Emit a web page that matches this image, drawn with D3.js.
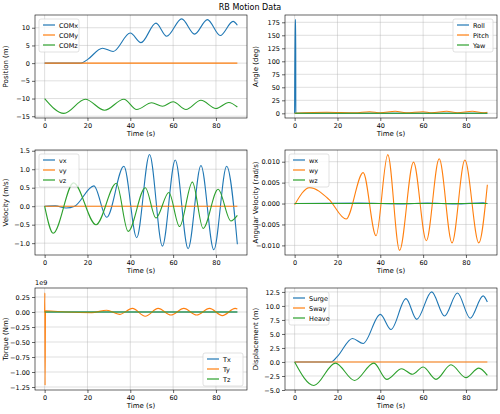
<!DOCTYPE html>
<html><head><meta charset="utf-8">
<script src="https://cdn.jsdelivr.net/npm/d3@7"></script>
<style>body{margin:0;background:#fff}text{font-family:"DejaVu Sans",sans-serif}</style>
</head><body><svg id="fig" width="500" height="414"></svg>
<script>
// keyframe samples [t, value]
var comX = [[0,0],[10,0],[17,0],[20,1],[27,4.2],[32,3.3],[40,8.5],[45,5.8],[52,11.3],[57,7.6],[64,12.5],[70,8.2],[76,12.3],[82,7.8],[88,11.8],[90,10.7]];
var comY = [[0,0],[90,0]];
var comZ = [[0,-10],[9,-14.2],[19,-10.2],[28,-13.3],[37,-10.2],[43,-13.1],[50,-11.2],[55,-12.2],[60,-10.9],[66,-13.1],[73,-10.5],[80,-12.8],[86,-11.1],[90,-12.4]];
var roll = [[0,0],[0.2,180],[0.5,180],[0.55,0],[90,0]];
var pitch = [[0,0],[15,2],[28,1],[35,3],[40,1],[47,4],[52,1],[60,3],[64,1],[71,4],[76,1],[83,4],[88,1],[90,2]];
var yaw = [[0,0],[90,0]];
var vx = [[0,0],[5,0.01],[10,-0.05],[14,0],[23,0.55],[29,-0.3],[37,1.08],[43,-0.85],[49,1.4],[55,-1.08],[61,1.25],[67,-1.15],[73,1.1],[79,-1.18],[85,1.08],[90,-1.03]];
var vy = [[0,0],[90,0]];
var vz = [[0,0],[4,-0.73],[13.5,0.63],[24,-0.5],[33.5,0.62],[39,-0.68],[47,0.5],[52,-0.32],[58,0.37],[63,-0.55],[69,0.65],[74,-0.6],[81,0.46],[87,-0.4],[90,-0.25]];
var wx = [[0,0],[30,0.0001],[50,-0.0001],[62,0.0001],[75,-0.0001],[88,0.0002],[90,0]];
var wy = [[0,-0.0003],[7,0.0038],[16,0.001],[24,-0.0037],[32,0.0074],[38,-0.0077],[43.5,0.0117],[49,-0.0112],[55.5,0.0099],[61.5,-0.0089],[67.5,0.0107],[73.5,-0.0094],[79.5,0.0104],[86,-0.0094],[90,0.0045]];
var wz = [[0,0],[90,0]];
var tx = [[0,0],[90,0]];
var ty = [[0,0],[0.1,0.32],[0.2,-1.22],[0.4,0.02],[10,0],[22,-0.01],[29,0.03],[35,-0.04],[41,0.06],[47,-0.07],[53,0.06],[59,-0.05],[65,0.06],[71,-0.05],[77,0.06],[83,-0.06],[89,0.06],[90,0.05]];
var tz = [[0,0],[90,0]];
var heave = comZ.map(function(d){return [d[0], d[1]+10];});

var xTicks = [0,20,40,60,80];
var colors = ["#1f77b4","#ff7f0e","#2ca02c"];
var svg = d3.select("#fig");
svg.append("text").attr("x",250).attr("y",10).attr("text-anchor","middle").attr("font-size",8).text("RB Motion Data");

function panel(box, yDom, yTicks, fmt, ylabel, series, names, legendPos, expo) {
    var X = d3.scaleLinear().domain([-4.5,94.5]).range([box.x0, box.x1]),
        Y = d3.scaleLinear().domain(yDom).range([box.y1, box.y0]);
    var g = svg.append("g");
    // grid
    g.selectAll(".gx").data(xTicks).enter().append("line")
        .attr("x1",X).attr("x2",X).attr("y1",box.y0).attr("y2",box.y1).attr("stroke","#b0b0b0").attr("stroke-opacity",0.5).attr("stroke-width",0.8);
    g.selectAll(".gy").data(yTicks).enter().append("line")
        .attr("y1",Y).attr("y2",Y).attr("x1",box.x0).attr("x2",box.x1).attr("stroke","#b0b0b0").attr("stroke-opacity",0.5).attr("stroke-width",0.8);
    var clip = "c" + Math.round(box.x0) + "_" + Math.round(box.y0);
    svg.append("clipPath").attr("id",clip).append("rect").attr("x",box.x0).attr("y",box.y0).attr("width",box.x1-box.x0).attr("height",box.y1-box.y0);
    var line = d3.line().x(function(d){return X(d[0]);}).y(function(d){return Y(d[1]);}).curve(d3.curveMonotoneX);
    series.forEach(function(s,i){
        g.append("path").attr("d",line(s)).attr("fill","none").attr("stroke",colors[i]).attr("stroke-width",1.1).attr("clip-path","url(#"+clip+")");
    });
    var ax = g.append("g").attr("transform","translate(0,"+box.y1+")").call(d3.axisBottom(X).tickValues(xTicks).tickSize(3).tickPadding(2).tickFormat(d3.format("d")));
    var ay = g.append("g").attr("transform","translate("+box.x0+",0)").call(d3.axisLeft(Y).tickValues(yTicks).tickSize(3).tickPadding(2).tickFormat(function(d){return fmt(d).replace("-","\u2212");}));
    [ax,ay].forEach(function(a){a.select(".domain").remove();a.selectAll("text").attr("font-size",6.5).attr("fill","#000").attr("font-family","DejaVu Sans");a.selectAll("line").attr("stroke","#000").attr("stroke-width",0.6);});
    g.append("rect").attr("x",box.x0).attr("y",box.y0).attr("width",box.x1-box.x0).attr("height",box.y1-box.y0).attr("fill","none").attr("stroke","#000").attr("stroke-width",0.6);
    g.append("text").attr("x",(box.x0+box.x1)/2).attr("y",box.y1+18).attr("text-anchor","middle").attr("font-size",7).text("Time (s)");
    g.append("text").attr("transform","translate("+(box.x0-27)+","+((box.y0+box.y1)/2)+") rotate(-90)").attr("text-anchor","middle").attr("font-size",7).text(ylabel);
    if (expo) g.append("text").attr("x",box.x0).attr("y",box.y0-3).attr("font-size",6.5).text(expo);
    // legend
    var lw = 40, lh = 33, lx = legendPos==="left"? box.x0+4 : box.x1-lw-4,
        ly = legendPos==="bottom" ? box.y1-lh-4 : box.y0+4;
    if (legendPos==="bottom") lx = box.x1-lw-4;
    var lg = g.append("g").attr("transform","translate("+lx+","+ly+")");
    lg.append("rect").attr("width",lw).attr("height",lh).attr("rx",2).attr("fill","#fff").attr("fill-opacity",0.8).attr("stroke","#ccc").attr("stroke-width",0.6);
    names.forEach(function(n,i){
        lg.append("line").attr("x1",4).attr("x2",16).attr("y1",6+i*10).attr("y2",6+i*10).attr("stroke",colors[i]).attr("stroke-width",1.2);
        lg.append("text").attr("x",20).attr("y",8.5+i*10).attr("font-size",6.5).text(n);
    });
}

var L = {x0:35,x1:247}, R = {x0:285,x1:497};
var rows = [{y0:15,y1:118},{y0:150,y1:255},{y0:288,y1:390}];
var f0 = d3.format("d"), f1 = d3.format(".1f"), f2 = d3.format(".2f"), f3 = d3.format(".3f");
panel({x0:L.x0,x1:L.x1,y0:rows[0].y0,y1:rows[0].y1}, [-15.5,13.6], [-15,-10,-5,0,5,10], f0, "Position (m)", [comX,comY,comZ], ["COMx","COMy","COMz"], "left");
panel({x0:R.x0,x1:R.x1,y0:rows[0].y0,y1:rows[0].y1}, [-9,189], [0,25,50,75,100,125,150,175], f0, "Angle (deg)", [roll,pitch,yaw], ["Roll","Pitch","Yaw"], "right");
panel({x0:L.x0,x1:L.x1,y0:rows[1].y0,y1:rows[1].y1}, [-1.32,1.52], [-1,-0.5,0,0.5,1,1.5], f1, "Velocity (m/s)", [vx,vy,vz], ["vx","vy","vz"], "left");
panel({x0:R.x0,x1:R.x1,y0:rows[1].y0,y1:rows[1].y1}, [-0.0123,0.0128], [-0.01,-0.005,0,0.005,0.01], f3, "Angular Velocity (rad/s)", [wx,wy,wz], ["wx","wy","wz"], "left");
panel({x0:L.x0,x1:L.x1,y0:rows[2].y0,y1:rows[2].y1}, [-1.3,0.4], [-1.25,-1,-0.75,-0.5,-0.25,0,0.25], f2, "Torque (Nm)", [tx,ty,tz], ["Tx","Ty","Tz"], "bottom", "1e9");
panel({x0:R.x0,x1:R.x1,y0:rows[2].y0,y1:rows[2].y1}, [-5,13.2], [-5,-2.5,0,2.5,5,7.5,10,12.5], f1, "Displacement (m)", [comX,comY,heave], ["Surge","Sway","Heave"], "left");
</script></body></html>
